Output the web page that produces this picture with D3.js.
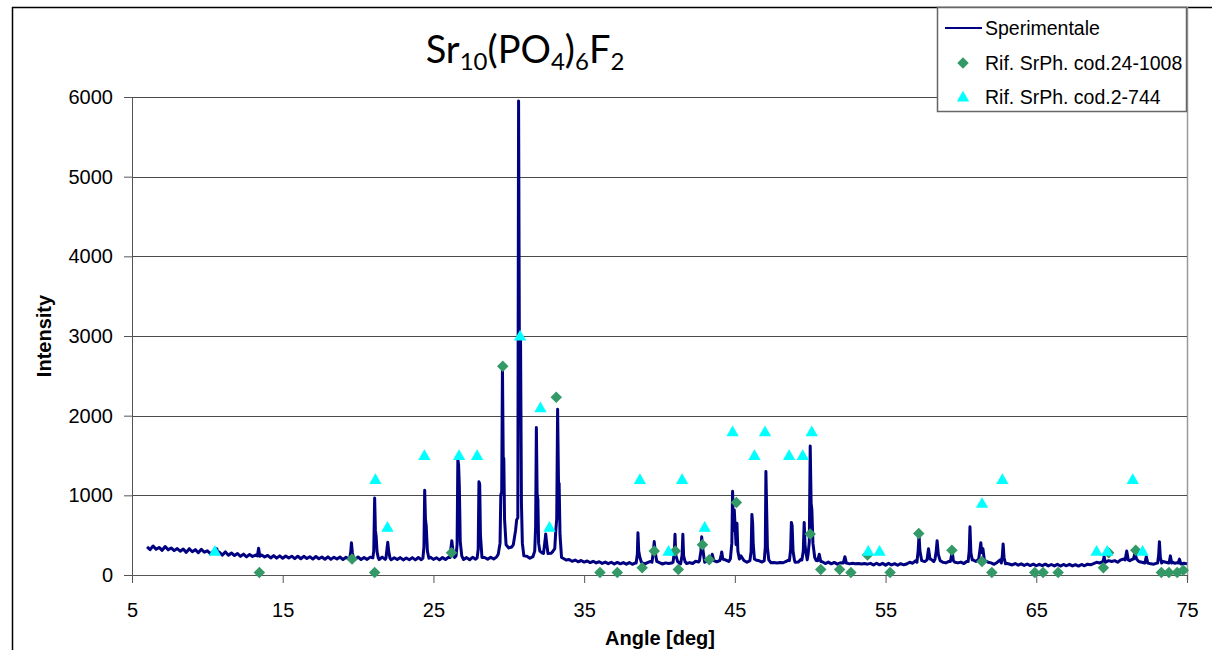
<!DOCTYPE html>
<html>
<head>
<meta charset="utf-8">
<script src="https://cdn.jsdelivr.net/npm/d3@7"></script>
<style>
  body { margin: 0; background: #fff; }
  svg { display: block; }
</style>
</head>
<body>
<svg></svg>
<script>
// experimental pattern: background read every 0.2 deg starting at 6.0
const baseStart = 6.0;
const baseStep = 0.2;
const baseline = [
  352, 318, 364, 322, 346, 310, 358, 316, 340, 306,
  332, 298, 326, 284, 330, 292, 318, 280, 322, 286,
  304, 266, 298, 262, 286, 250, 290, 248, 276, 244,
  270, 234, 262, 228, 258, 232, 250, 220, 252, 226,
  246, 214, 244, 212, 240, 210, 238, 214, 236, 206,
  236, 204, 234, 208, 230, 200, 232, 204, 226, 198,
  228, 196, 224, 200, 226, 194, 222, 198, 220, 196,
  226, 194, 220, 196, 224, 190, 218, 194, 224, 196,
  220, 192, 216, 194, 218, 190, 214, 192, 218, 190,
  220, 192, 218, 196, 222, 196, 216, 190, 220, 194,
  222, 194, 220, 232, 220, 194, 218, 192, 222, 198,
  226, 196, 220, 198, 224, 200, 228, 220, 262, 290,
  340, 352, 370, 390, 300, 250, 236, 210, 232, 240,
  300, 278, 300, 262, 272, 300, 320, 290, 210, 188,
  194, 172, 188, 166, 182, 162, 176, 156, 172, 152,
  166, 146, 162, 142, 160, 138, 158, 140, 156, 136,
  156, 134, 152, 132, 156, 138, 154, 170, 156, 138,
  154, 138, 152, 144, 150, 136, 156, 140, 152, 144,
  156, 144, 172, 164, 200, 160, 178, 158, 192, 166,
  182, 220, 188, 170, 210, 180, 200, 240, 182, 160,
  174, 200, 188, 180, 162, 200, 180, 154, 156, 150,
  158, 154, 172, 190, 180, 160, 162, 200, 182, 190,
  200, 240, 182, 200, 166, 144, 162, 140, 158, 136,
  154, 134, 166, 140, 148, 142, 144, 138, 144, 136,
  146, 126, 148, 128, 146, 124, 146, 126, 142, 122,
  142, 128, 138, 160, 148, 180, 150, 138, 168, 180,
  200, 170, 210, 190, 160, 152, 170, 200, 160, 152,
  162, 144, 172, 200, 190, 170, 210, 250, 180, 160,
  152, 134, 158, 190, 180, 148, 138, 126, 144, 124,
  140, 120, 138, 118, 136, 116, 134, 118, 136, 114,
  132, 114, 134, 112, 132, 116, 134, 114, 130, 112,
  132, 116, 136, 128, 142, 160, 150, 170, 160, 180,
  170, 180, 160, 190, 200, 230, 180, 200, 220, 170,
  160, 170, 150, 140, 136, 150, 140, 170, 160, 150,
  166, 146, 158, 138, 148, 140
];

// diffraction peaks [angle, intensity]
const peaks = [
  [[10.55, 270], [10.62, 330], [10.7, 265]],
  [[13.32, 240], [13.4, 335], [13.48, 235]],
  [[19.45, 215], [19.52, 300], [19.56, 405], [19.62, 280], [19.7, 210]],
  [[20.98, 215], [21.04, 300], [21.1, 965], [21.15, 560], [21.2, 480], [21.26, 290], [21.34, 215]],
  [[21.85, 210], [21.92, 330], [21.97, 410], [22.03, 300], [22.12, 210]],
  [[24.3, 210], [24.37, 350], [24.42, 1065], [24.47, 700], [24.52, 620], [24.6, 300], [24.7, 210]],
  [[26.1, 220], [26.17, 350], [26.22, 430], [26.28, 330], [26.36, 250]],
  [[26.5, 240], [26.57, 380], [26.62, 1450], [26.67, 1380], [26.72, 1100], [26.78, 420], [26.88, 240]],
  [[27.9, 215], [27.97, 320], [28.02, 1170], [28.07, 1140], [28.12, 500], [28.22, 220]],
  [[29.3, 260], [29.42, 400], [29.47, 1000], [29.53, 1050], [29.58, 2620], [29.63, 1480], [29.67, 1460], [29.72, 700], [29.82, 380]],
  [[30.3, 380], [30.45, 560], [30.52, 690], [30.6, 720], [30.65, 5950], [30.7, 3000], [30.74, 2450], [30.78, 2950], [30.84, 900], [30.9, 400], [31.0, 240]],
  [[31.6, 230], [31.72, 300], [31.78, 600], [31.83, 1850], [31.88, 1020], [31.93, 950], [31.98, 400], [32.06, 300]],
  [[32.3, 270], [32.4, 420], [32.45, 515], [32.5, 420], [32.6, 270]],
  [[32.9, 290], [33.05, 330], [33.12, 560], [33.18, 700], [33.24, 2080], [33.3, 1130], [33.34, 1150], [33.4, 500], [33.5, 220]],
  [[38.45, 150], [38.53, 260], [38.57, 530], [38.62, 300], [38.7, 220], [38.8, 160]],
  [[39.5, 160], [39.6, 300], [39.65, 420], [39.72, 280], [39.82, 170]],
  [[40.9, 160], [40.98, 280], [41.03, 510], [41.08, 250], [41.2, 170]],
  [[41.42, 160], [41.5, 250], [41.55, 510], [41.6, 240], [41.7, 165]],
  [[42.65, 180], [42.75, 300], [42.8, 480], [42.86, 350], [42.95, 220]],
  [[43.4, 180], [43.5, 260], [43.6, 180]],
  [[44.02, 190], [44.1, 260], [44.13, 290], [44.2, 200]],
  [[44.7, 200], [44.8, 400], [44.85, 1050], [44.9, 560], [44.96, 820], [45.02, 600], [45.08, 380], [45.14, 650], [45.2, 300], [45.3, 200]],
  [[46.0, 180], [46.08, 300], [46.13, 760], [46.18, 650], [46.22, 380], [46.3, 200]],
  [[46.95, 180], [47.02, 350], [47.06, 1300], [47.11, 820], [47.16, 350], [47.25, 190]],
  [[48.62, 180], [48.7, 320], [48.75, 660], [48.8, 620], [48.86, 300], [48.95, 190]],
  [[49.45, 190], [49.54, 300], [49.6, 660], [49.66, 360], [49.74, 260]],
  [[49.86, 260], [49.94, 420], [50.0, 1620], [50.06, 900], [50.11, 820], [50.18, 400], [50.3, 220]],
  [[50.5, 180], [50.6, 260], [50.7, 170]],
  [[52.2, 150], [52.3, 230], [52.4, 150]],
  [[57.08, 160], [57.16, 300], [57.22, 502], [57.28, 300], [57.4, 180]],
  [[57.75, 190], [57.85, 330], [57.95, 200]],
  [[58.28, 200], [58.36, 300], [58.42, 430], [58.5, 260], [58.62, 180]],
  [[59.3, 170], [59.42, 290], [59.5, 180]],
  [[60.48, 170], [60.55, 300], [60.6, 606], [60.66, 280], [60.75, 190]],
  [[61.18, 200], [61.25, 300], [61.32, 405], [61.38, 280], [61.46, 330], [61.55, 190]],
  [[62.68, 150], [62.75, 250], [62.8, 390], [62.86, 220], [62.96, 140]],
  [[69.42, 160], [69.5, 230], [69.58, 160]],
  [[70.9, 190], [71.0, 300], [71.1, 190]],
  [[71.45, 200], [71.55, 280], [71.65, 200]],
  [[72.2, 150], [72.3, 230], [72.4, 150]],
  [[73.05, 150], [73.12, 250], [73.17, 418], [73.23, 220], [73.32, 150]],
  [[73.82, 160], [73.9, 240], [73.98, 150]],
  [[74.42, 150], [74.5, 200], [74.58, 145]]
];

// reference card 24-1008 (diamonds)
const ref24 = [
  [13.45, 30], [19.6, 200], [21.1, 30], [26.2, 280], [29.6, 2620], [33.15, 2230],
  [36.05, 30], [37.2, 30], [38.85, 90], [39.65, 300], [41.05, 300], [41.25, 70],
  [42.85, 380], [43.3, 190], [45.1, 910], [50.0, 515], [50.7, 70], [51.95, 70],
  [52.7, 30], [53.8, 250], [55.3, 30], [57.2, 520], [59.4, 310], [61.4, 170],
  [62.05, 30], [64.9, 30], [65.45, 30], [66.45, 30], [69.45, 90], [69.8, 280],
  [71.6, 310], [73.3, 30], [73.8, 30], [74.35, 30], [74.75, 60]
];

// reference card 2-744 (triangles)
const ref2 = [
  [10.5, 300], [21.15, 1200], [21.95, 600], [24.4, 1500], [26.7, 1500], [27.9, 1500],
  [30.75, 3000], [32.1, 2100], [32.7, 600], [38.7, 1200], [40.6, 300], [41.5, 1200],
  [43.0, 600], [44.85, 1800], [46.3, 1500], [47.0, 1800], [48.6, 1500], [49.5, 1500],
  [50.1, 1800], [53.85, 300], [54.6, 300], [61.4, 900], [62.75, 1200], [69.0, 300],
  [69.7, 300], [71.4, 1200], [72.05, 300]
];

const xTicks = [5, 15, 25, 35, 45, 55, 65, 75];
const yTicks = [0, 1000, 2000, 3000, 4000, 5000, 6000];
const legendLabels = ['Sperimentale', 'Rif. SrPh. cod.24-1008', 'Rif. SrPh. cod.2-744'];

const width = 1212;
const height = 650;
const svg = d3.select('svg').attr('width', width).attr('height', height);

const x = d3.scaleLinear().domain([5, 75]).range([132, 1187]);
const y = d3.scaleLinear().domain([0, 6000]).range([575, 97]);

// merge background and peaks into one pattern
const points = [];
baseline.forEach((v, i) => {
  const a = +(baseStart + i * baseStep).toFixed(1);
  const inside = peaks.some(p => a >= p[0][0] && a <= p[p.length - 1][0]);
  if (!inside) points.push([a, v]);
});
peaks.forEach(p => points.push(...p));
points.sort((a, b) => a[0] - b[0]);

// chart frame
svg.append('rect').attr('width', width).attr('height', height).attr('fill', '#fff');
svg.append('line').attr('x1', 12).attr('x2', width).attr('y1', 7.5).attr('y2', 7.5)
  .attr('stroke', '#000').attr('stroke-width', 1.5);
svg.append('line').attr('x1', 12.5).attr('x2', 12.5).attr('y1', 7).attr('y2', height)
  .attr('stroke', '#000').attr('stroke-width', 1.5);
svg.append('line').attr('x1', 1187.5).attr('x2', 1187.5).attr('y1', 7).attr('y2', 580)
  .attr('stroke', '#9a9a9a').attr('stroke-width', 1.5);

// gridlines
svg.append('g')
  .selectAll('line')
  .data(yTicks.filter(d => d > 0))
  .enter().append('line')
  .attr('x1', x(5)).attr('x2', x(75))
  .attr('y1', d => Math.round(y(d)) + 0.5).attr('y2', d => Math.round(y(d)) + 0.5)
  .attr('stroke', '#4a4a4a').attr('stroke-width', 1);

// axes
const yAxis = svg.append('g')
  .attr('transform', `translate(${x(5)},0)`)
  .call(d3.axisLeft(y).tickValues(yTicks).tickFormat(d3.format('d'))
    .tickSize(8).tickSizeOuter(0).tickPadding(11));
const xAxis = svg.append('g')
  .attr('transform', `translate(0,${y(0)})`)
  .call(d3.axisBottom(x).tickValues(xTicks).tickFormat(d3.format('d'))
    .tickSize(8).tickSizeOuter(0).tickPadding(20));
[yAxis, xAxis].forEach(g => {
  g.select('.domain').attr('stroke', '#555');
  g.selectAll('.tick line').attr('stroke', '#555');
  g.selectAll('text')
    .attr('font-family', 'Arial, "Liberation Sans", sans-serif')
    .attr('font-size', 20)
    .attr('fill', '#000');
});

// experimental line
const line = d3.line().x(d => x(d[0])).y(d => y(d[1]));
svg.append('path')
  .datum(points)
  .attr('d', line)
  .attr('fill', 'none')
  .attr('stroke', '#000080')
  .attr('stroke-width', 3)
  .attr('stroke-linejoin', 'round');

// reference markers
const diamond = d3.symbol().type(d3.symbolSquare).size(66);
const triangle = d3.symbol().type(d3.symbolTriangle).size(66);

svg.append('g')
  .selectAll('path')
  .data(ref24)
  .enter().append('path')
  .attr('d', diamond)
  .attr('transform', d => `translate(${x(d[0])},${y(d[1])}) rotate(45)`)
  .attr('fill', '#339966');

svg.append('g')
  .selectAll('path')
  .data(ref2)
  .enter().append('path')
  .attr('d', triangle)
  .attr('transform', d => `translate(${x(d[0])},${y(d[1]) + 1})`)
  .attr('fill', '#00ffff');

// axis titles
svg.append('text')
  .attr('x', 660).attr('y', 645)
  .attr('text-anchor', 'middle')
  .attr('font-family', 'Arial, "Liberation Sans", sans-serif')
  .attr('font-size', 20).attr('font-weight', 'bold')
  .text('Angle [deg]');
svg.append('text')
  .attr('transform', 'translate(51,336) rotate(-90)')
  .attr('text-anchor', 'middle')
  .attr('font-family', 'Arial, "Liberation Sans", sans-serif')
  .attr('font-size', 20).attr('font-weight', 'bold')
  .text('Intensity');

// title with subscripts
const title = svg.append('text')
  .attr('x', 525).attr('y', 63)
  .attr('text-anchor', 'middle')
  .attr('font-family', 'Lato, "Open Sans", sans-serif')
  .attr('font-size', 38);
const titleParts = [['Sr', 0], ['10', 1], ['(PO', 0], ['4', 1], [')', 0], ['6', 1], ['F', 0], ['2', 1]];
let lowered = false;
titleParts.forEach(([t, sub]) => {
  const span = title.append('tspan').text(t);
  if (sub) {
    span.attr('font-size', 24).attr('dy', lowered ? 0 : 7);
    lowered = true;
  } else {
    span.attr('dy', lowered ? -7 : 0);
    lowered = false;
  }
});

// legend
const legend = svg.append('g');
legend.append('rect')
  .attr('x', 937.5).attr('y', 7.5).attr('width', 249).attr('height', 104)
  .attr('fill', '#fff').attr('stroke', '#666').attr('stroke-width', 1.5);
const rowY = [28, 63, 97];
legend.append('line')
  .attr('x1', 945).attr('x2', 982).attr('y1', rowY[0]).attr('y2', rowY[0])
  .attr('stroke', '#000080').attr('stroke-width', 2);
legend.append('path').attr('d', diamond)
  .attr('transform', `translate(963,${rowY[1]}) rotate(45)`).attr('fill', '#339966');
legend.append('path').attr('d', triangle)
  .attr('transform', `translate(963,${rowY[2] + 1})`).attr('fill', '#00ffff');
legend.selectAll('text.lab')
  .data(legendLabels)
  .enter().append('text')
  .attr('class', 'lab')
  .attr('x', 985).attr('y', (d, i) => rowY[i] + 7)
  .attr('font-family', 'Arial, "Liberation Sans", sans-serif')
  .attr('font-size', 19.5)
  .text(d => d);
</script>
</body>
</html>
